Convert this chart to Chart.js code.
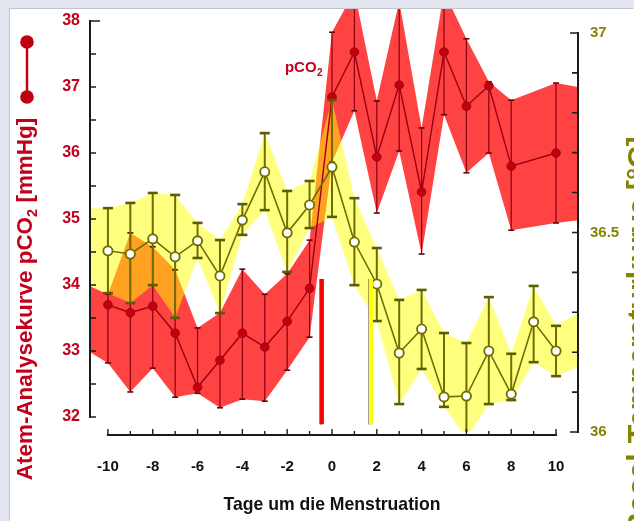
<!DOCTYPE html>
<html><head><meta charset="utf-8">
<script src="https://cdn.jsdelivr.net/npm/chart.js@4.4.0/dist/chart.umd.min.js"></script>
<style>
html,body{margin:0;padding:0;width:634px;height:521px;overflow:hidden;background:#e3e6f0;}
#wrap{position:absolute;left:10px;top:9px;width:624px;height:512px;background:#fff;box-shadow:-1px -1px 0 #c3c5cc;}
canvas{display:block;}
</style></head><body>
<div id="wrap"><canvas id="c" width="624" height="512"></canvas></div>
<script>
// ---- data ----
const pco2Days = [-10,-9,-8,-7,-6,-5,-4,-3,-2,-1,0,1,2,3,4,5,6,7,8,10];
const pco2   = [33.70,33.58,33.68,33.27,32.45,32.86,33.27,33.06,33.45,33.95,36.85,37.53,35.94,37.03,35.41,37.53,36.71,37.02,35.80,36.00];
const pco2Hi = [33.86,34.79,34.58,34.23,33.35,33.58,34.24,33.86,34.17,34.68,37.83,38.45,36.79,38.30,36.38,38.45,37.73,37.08,36.80,37.06];
const pco2Lo = [32.82,32.38,32.74,32.30,32.36,32.14,32.27,32.24,32.71,33.21,35.86,36.64,35.09,36.03,34.47,36.58,35.70,36.00,34.83,34.94];
const pco2EdgeHi = [33.98, 37.00];   // band at left / right plot edge
const pco2EdgeLo = [32.98, 34.98];

const tempDays = [-10,-9,-8,-7,-6,-5,-4,-3,-2,-1,0,1,2,3,4,5,6,7,8,9,10];
const temp   = [36.454,36.446,36.484,36.439,36.479,36.391,36.531,36.652,36.499,36.569,36.664,36.476,36.371,36.198,36.258,36.088,36.090,36.203,36.095,36.276,36.203];
const tempHi = [36.561,36.574,36.599,36.594,36.524,36.481,36.571,36.749,36.604,36.629,36.832,36.586,36.461,36.331,36.356,36.248,36.223,36.338,36.196,36.366,36.266];
const tempLo = [36.348,36.323,36.368,36.286,36.436,36.298,36.494,36.556,36.401,36.511,36.539,36.368,36.278,36.070,36.158,36.063,35.985,36.070,36.080,36.175,36.140];
const tempEdgeHi = [36.561, 36.298];
const tempEdgeLo = [36.366, 36.163];

const markerDays = [-0.45, 1.74];       // red / yellow vertical markers
const markerRange = [31.89, 34.09];     // on the pCO2 axis

const xTicks = [-10,-8,-6,-4,-2,0,2,4,6,8,10];
const leftTicks = [32,33,34,35,36,37,38];
const rightTicks = [36,36.5,37];

const xMin = -10.8, xMax = 10.98;
const leftMin = 31.773, leftMax = 38.182;
const rightMin = 36, rightMax = 37.060;

const FONT = "'Liberation Sans', Arial, sans-serif";
const RED_TXT = '#c3001b', OLIVE_TXT = '#848400';
const RED_BAND = '#ff4343', YEL_BAND = 'rgba(255,255,0,0.5)';
const RED_LINE = '#990010', RED_PT = '#c2000f', OLIVE = '#6e6e00';

const pts = (xs, ys) => xs.map((d, i) => ({x: d, y: ys[i]}));
const band = (xs, ys, edge) => [{x: xMin, y: edge[0]}, ...pts(xs, ys), {x: xMax, y: edge[1]}];
const errSegs = (xs, lo, hi) => xs.flatMap((d, i) => [{x: d, y: lo[i]}, {x: d, y: hi[i]}, {x: d, y: null}]);
const caps = (xs, lo, hi) => xs.flatMap((d, i) => [{x: d, y: lo[i]}, {x: d, y: hi[i]}]);
const vline = (d) => [{x: d, y: markerRange[0]}, {x: d, y: markerRange[1]}];

const base = {pointRadius: 0, borderWidth: 0, fill: false, tension: 0};

const datasets = [
  {...base, data: band(pco2Days, pco2Hi, pco2EdgeHi), yAxisID: 'yL', fill: '+1', backgroundColor: RED_BAND, order: 100},
  {...base, data: band(pco2Days, pco2Lo, pco2EdgeLo), yAxisID: 'yL', order: 100},
  {...base, data: band(tempDays, tempHi, tempEdgeHi), yAxisID: 'yR', fill: '+1', backgroundColor: YEL_BAND, order: 90},
  {...base, data: band(tempDays, tempLo, tempEdgeLo), yAxisID: 'yR', order: 90},
  {...base, data: errSegs(pco2Days, pco2Lo, pco2Hi), yAxisID: 'yL', borderWidth: 1.2, borderColor: '#8a0010', spanGaps: false, order: 60},
  {...base, data: caps(pco2Days, pco2Lo, pco2Hi), yAxisID: 'yL', showLine: false, pointStyle: 'line', pointRadius: 3, pointBorderWidth: 1.6, pointBorderColor: '#6a0008', order: 59},
  {...base, data: pts(pco2Days, pco2), yAxisID: 'yL', borderWidth: 1.4, borderColor: RED_LINE, pointRadius: 4.3, pointBackgroundColor: RED_PT, pointBorderColor: '#a8000f', pointBorderWidth: 1, order: 50},
  {...base, data: errSegs(tempDays, tempLo, tempHi), yAxisID: 'yR', borderWidth: 2, borderColor: OLIVE, spanGaps: false, order: 40},
  {...base, data: caps(tempDays, tempLo, tempHi), yAxisID: 'yR', showLine: false, pointStyle: 'line', pointRadius: 5, pointBorderWidth: 2.6, pointBorderColor: '#5c5c00', order: 39},
  {...base, data: pts(tempDays, temp), yAxisID: 'yR', borderWidth: 1.6, borderColor: OLIVE, pointRadius: 4.6, pointBackgroundColor: '#ffffff', pointBorderColor: OLIVE, pointBorderWidth: 1.8, order: 30},
  {...base, data: vline(markerDays[0] - 0.06), yAxisID: 'yL', borderWidth: 2, borderColor: '#000', order: 12},
  {...base, data: vline(markerDays[0]), yAxisID: 'yL', borderWidth: 4, borderColor: '#ff0000', order: 11},
  {...base, data: vline(markerDays[1] - 0.06), yAxisID: 'yL', borderWidth: 2, borderColor: '#000', order: 12},
  {...base, data: vline(markerDays[1]), yAxisID: 'yL', borderWidth: 4, borderColor: '#ffff00', order: 11}
];

function fitText(ctx, text, weight, target) {
  ctx.font = weight + ' 20px ' + FONT;
  const w = ctx.measureText(text).width;
  return 20 * target / w;
}

function noPad(s) { s.paddingTop = 0; s.paddingBottom = 0; s.paddingLeft = 0; s.paddingRight = 0; }

const deco = {
  id: 'deco',
  afterDatasetsDraw(chart) {
    const {ctx, chartArea: ca, scales: {x, yL, yR}} = chart;
    ctx.save();
    ctx.strokeStyle = '#1c1c1c';
    ctx.lineCap = 'butt';
    // left axis
    ctx.lineWidth = 2;
    const lTop = yL.getPixelForValue(leftTicks[leftTicks.length - 1]);
    const lBot = yL.getPixelForValue(leftTicks[0]);
    ctx.beginPath(); ctx.moveTo(ca.left, lTop - 1); ctx.lineTo(ca.left, lBot + 1); ctx.stroke();
    ctx.lineWidth = 1.6;
    ctx.beginPath();
    for (let v = leftTicks[0]; v <= leftTicks[leftTicks.length - 1] + 1e-9; v += 0.5) {
      const py = yL.getPixelForValue(v);
      const len = (v === leftTicks[leftTicks.length - 1]) ? 10 : 6;
      ctx.moveTo(ca.left, py); ctx.lineTo(ca.left + len, py);
    }
    ctx.stroke();
    // right axis
    ctx.lineWidth = 2;
    const rTop = yR.getPixelForValue(rightTicks[rightTicks.length - 1]);
    const rBot = yR.getPixelForValue(rightTicks[0]);
    ctx.beginPath(); ctx.moveTo(ca.right, rTop - 1); ctx.lineTo(ca.right, rBot + 1); ctx.stroke();
    ctx.lineWidth = 1.6;
    ctx.beginPath();
    for (let k = 0; k <= 10; k++) {
      const v = rightTicks[0] + k * 0.1;
      const py = yR.getPixelForValue(v);
      const len = (k === 0 || k === 10) ? 8 : 6;
      ctx.moveTo(ca.right, py); ctx.lineTo(ca.right - len, py);
    }
    ctx.stroke();
    // x axis
    const ay = ca.bottom + 3;
    const x0 = x.getPixelForValue(xTicks[0]), x1 = x.getPixelForValue(xTicks[xTicks.length - 1]);
    ctx.lineWidth = 2;
    ctx.beginPath(); ctx.moveTo(x0 - 1, ay); ctx.lineTo(x1 + 1, ay); ctx.stroke();
    ctx.lineWidth = 1.4;
    ctx.beginPath();
    for (let d = xTicks[0]; d <= xTicks[xTicks.length - 1]; d++) {
      const px = x.getPixelForValue(d);
      const len = (d % 2 === 0) ? 6 : 4;
      ctx.moveTo(px, ay); ctx.lineTo(px, ay - len);
    }
    ctx.stroke();
    ctx.restore();
  },
  afterDraw(chart) {
    const {ctx, chartArea: ca, scales: {x, yL}} = chart;
    ctx.save();
    // pCO2 label inside the plot
    ctx.fillStyle = RED_TXT;
    ctx.textBaseline = 'middle';
    ctx.textAlign = 'left';
    const lx = x.getPixelForValue(-2.1), ly = yL.getPixelForValue(37.29);
    ctx.font = 'bold 15px ' + FONT;
    ctx.fillText('pCO', lx, ly);
    const w = ctx.measureText('pCO').width;
    ctx.font = 'bold 10px ' + FONT;
    ctx.fillText('2', lx + w + 0.5, ly + 5);

    // legend icon (red series)
    ctx.strokeStyle = '#c0000f'; ctx.fillStyle = '#c0000f';
    ctx.lineWidth = 2.4;
    ctx.beginPath(); ctx.moveTo(17, 33); ctx.lineTo(17, 88); ctx.stroke();
    ctx.beginPath(); ctx.arc(17, 33, 6.8, 0, Math.PI * 2); ctx.fill();
    ctx.beginPath(); ctx.arc(17, 88, 6.8, 0, Math.PI * 2); ctx.fill();

    // left title (rotated)
    const t1 = 'Atem-Analysekurve pCO', t2 = '2', t3 = ' [mmHg]';
    const fs = fitText(ctx, t1 + 'x' + t3, 'bold', 367);
    ctx.font = 'bold ' + fs + 'px ' + FONT;
    const w1 = ctx.measureText(t1).width, w3 = ctx.measureText(t3).width;
    ctx.font = 'bold ' + (fs * 0.65) + 'px ' + FONT;
    const w2 = ctx.measureText(t2).width;
    const tot = w1 + w2 + w3;
    ctx.translate(16, 290);
    ctx.rotate(-Math.PI / 2);
    ctx.fillStyle = RED_TXT;
    ctx.textAlign = 'left';
    ctx.textBaseline = 'middle';
    ctx.font = 'bold ' + fs + 'px ' + FONT;
    ctx.fillText(t1, -tot / 2, 0);
    ctx.font = 'bold ' + (fs * 0.65) + 'px ' + FONT;
    ctx.fillText(t2, -tot / 2 + w1, fs * 0.3);
    ctx.font = 'bold ' + fs + 'px ' + FONT;
    ctx.fillText(t3, -tot / 2 + w1 + w2, 0);
    ctx.restore();

    // right title (rotated, partly off the page)
    ctx.save();
    const rt = 'Basal-Temperaturkurve [°C]';
    const fs2 = fitText(ctx, rt, 'bold', 398);
    ctx.translate(630, 326);
    ctx.rotate(-Math.PI / 2);
    ctx.fillStyle = OLIVE_TXT;
    ctx.textAlign = 'center';
    ctx.textBaseline = 'middle';
    ctx.font = 'bold ' + fs2 + 'px ' + FONT;
    ctx.fillText(rt, 0, 0);
    ctx.restore();

    // x title
    ctx.save();
    const xt = 'Tage um die Menstruation';
    const fs3 = fitText(ctx, xt, 'bold', 217);
    ctx.font = 'bold ' + fs3 + 'px ' + FONT;
    ctx.fillStyle = '#111';
    ctx.textAlign = 'center';
    ctx.textBaseline = 'middle';
    ctx.fillText(xt, (x.getPixelForValue(xTicks[0]) + x.getPixelForValue(xTicks[xTicks.length - 1])) / 2, 496);
    ctx.restore();
  }
};

new Chart(document.getElementById('c'), {
  type: 'line',
  data: {datasets},
  options: {
    responsive: false,
    animation: false,
    devicePixelRatio: 1,
    layout: {padding: 0, autoPadding: false},
    plugins: {legend: {display: false}, tooltip: {enabled: false}},
    elements: {line: {tension: 0}},
    scales: {
      x: {
        type: 'linear', min: xMin, max: xMax,
        afterBuildTicks: s => { s.ticks = xTicks.map(v => ({value: v})); },
        afterFit: s => { s.height = 89; noPad(s); },
        grid: {display: false, drawTicks: false}, border: {display: false},
        ticks: {autoSkip: false, maxRotation: 0, padding: 26, color: '#111',
                font: {family: FONT, weight: 'bold', size: 15}, callback: v => String(v)}
      },
      yL: {
        type: 'linear', position: 'left', min: leftMin, max: leftMax,
        afterBuildTicks: s => { s.ticks = leftTicks.map(v => ({value: v})); },
        afterFit: s => { s.width = 80; noPad(s); },
        grid: {display: false, drawTicks: false}, border: {display: false},
        ticks: {padding: 10, color: RED_TXT, font: {family: FONT, weight: 'bold', size: 16}, callback: v => String(v)}
      },
      yR: {
        type: 'linear', position: 'right', min: rightMin, max: rightMax,
        afterBuildTicks: s => { s.ticks = rightTicks.map(v => ({value: v})); },
        afterFit: s => { s.width = 56; noPad(s); },
        grid: {display: false, drawTicks: false}, border: {display: false},
        ticks: {padding: 12, color: OLIVE_TXT, font: {family: FONT, weight: 'bold', size: 15}, callback: v => String(v)}
      }
    }
  },
  plugins: [deco]
});
</script>
</body></html>
